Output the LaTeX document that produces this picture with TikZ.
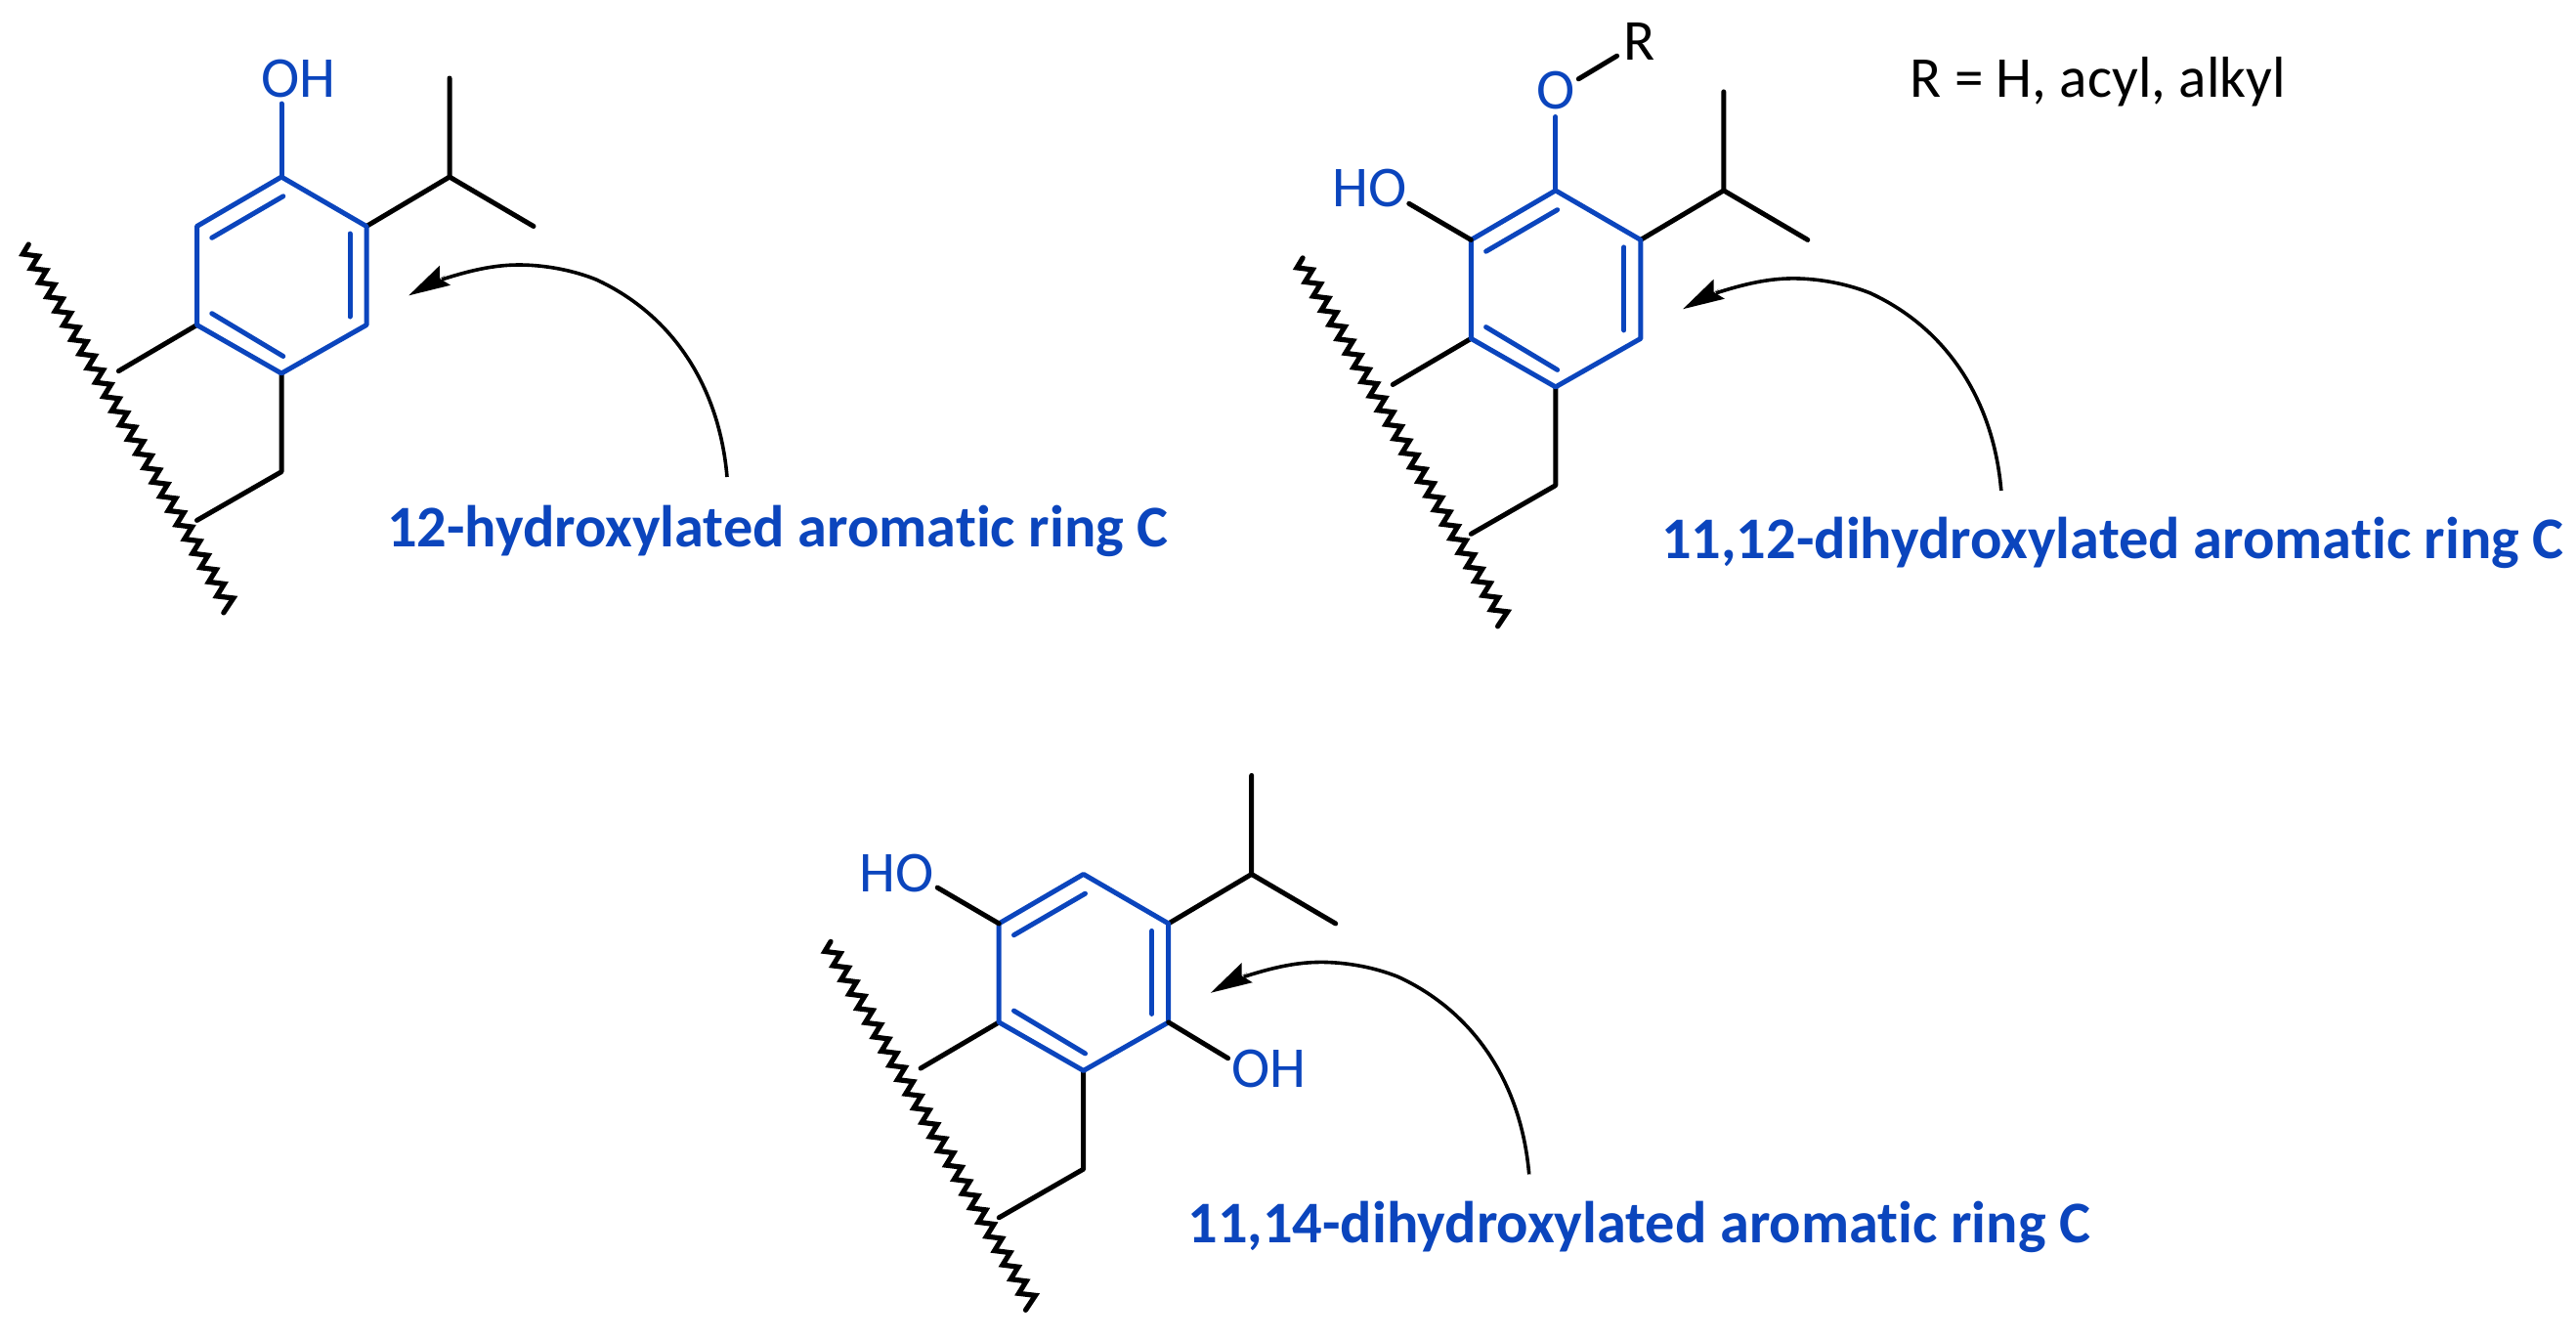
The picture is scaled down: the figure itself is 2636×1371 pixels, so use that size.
\documentclass[tikz,border=0pt]{standalone}
\usepackage{fontspec}
\setmainfont[Ligatures=NoCommon]{Carlito}
\usetikzlibrary{arrows.meta}
\definecolor{ringblue}{HTML}{0B45BD}
\tikzset{
  bond/.style={line width=5pt,line cap=round,line join=round,black},
  bluebond/.style={bond,draw=ringblue},
  wavy/.style={line width=5.2pt,line join=miter,line cap=round,black},
  curvearrow/.style={line width=3.6pt,black},
  atom/.style={inner sep=0pt,outer sep=0pt,anchor=base,text=ringblue,font=\fontsize{59.2}{60}\selectfont},
  blackatom/.style={atom,text=black},
  caption/.style={inner sep=0pt,outer sep=0pt,anchor=base west,text=ringblue,font=\fontsize{60.4}{62}\selectfont\bfseries},
  note/.style={inner sep=0pt,outer sep=0pt,anchor=base west,text=black,font=\fontsize{59.2}{60}\selectfont}
}
\newcommand{\corefrag}{%
  \coordinate (top) at (288,181);
  \coordinate (ur) at (375,231.5);
  \coordinate (lr) at (375,332.5);
  \coordinate (bot) at (288,382);
  \coordinate (ll) at (201.5,332.5);
  \coordinate (ul) at (201.5,231.5);
  \coordinate (ipr) at (460,181);
  \coordinate (ipa) at (460,80);
  \coordinate (ipb) at (546,231.5);
  \coordinate (lb) at (121.4,379.6);
  \coordinate (ch) at (288,482.7);
  \coordinate (cj) at (201.5,532.4);
  \coordinate (d1a) at (289.8,200.8);
  \coordinate (d1b) at (216.8,243.3);
  \coordinate (d2a) at (358,239);
  \coordinate (d2b) at (358,324);
  \coordinate (d3a) at (216.8,320.7);
  \coordinate (d3b) at (289.8,364.5);
  \coordinate (zs) at (29.3,250);
  \coordinate (as) at (744,488);
  \coordinate (am) at (610,286);
  \coordinate (at) at (531,271);
  \coordinate (an) at (452,286);
  \coordinate (ab) at (455.5,281.7);
  \coordinate (ah) at (418.3,302.3);
  \draw[bond] (ur) -- (ipr) -- (ipa);
  \draw[bond] (ipr) -- (ipb);
  \draw[bond] (ll) -- (lb);
  \draw[bond] (bot) -- (ch) -- (cj);
  \draw[wavy] (zs) -- ++(-6,10)
    \foreach \n in {1,...,24}{ -- ++(16,2) -- ++(-7.73,12.58) }
    -- ++(17,2) -- ++(-10,15);
  \draw[bluebond] (top) -- (ur) -- (lr) -- (bot) -- (ll) -- (ul) -- cycle;
  \draw[bluebond] (d1a) -- (d1b);
  \draw[bluebond] (d2a) -- (d2b);
  \draw[bluebond] (d3a) -- (d3b);
  \draw[curvearrow] (as) .. controls (736,395) and (688,322) .. (am)
    .. controls (580,274) and (550,271) .. (at)
    .. controls (505,271) and (480,277) .. (an);
  \draw[-{Stealth[length=42.5pt,width=23pt,inset=6.5pt,line width=0pt]},line width=0.1pt,black] (ab) -- (ah);
}
\begin{document}
\begin{tikzpicture}[x=1pt,y=-1pt]
\useasboundingbox (0,0) rectangle (2636,1371);
% structure 1
\begin{scope}[name prefix=a-]
  \corefrag
  \node[atom] (oh) at (305.5,99) {OH};
  \coordinate (ohb) at (288,106);
  \draw[bluebond] (top) -- (ohb);
  \node[caption] (lab) at (396,559) {12-hydroxylated aromatic ring C};
\end{scope}
% structure 2
\begin{scope}[shift={(1303.8,13.9)},name prefix=b-]
  \corefrag
  \node[atom] (o) at (288,97.6) {O};
  \node[blackatom] (r) at (374,47.1) {R};
  \node[atom] (ho) at (97.7,197.4) {HO};
  \coordinate (ob) at (288,105.6);
  \coordinate (ora) at (311.5,66.9);
  \coordinate (orb) at (350.8,43.3);
  \coordinate (hob) at (138,194.4);
  \draw[bluebond] (top) -- (ob);
  \draw[bond] (ora) -- (orb);
  \draw[bond] (ul) -- (hob);
  \node[note] (rdef) at (650.7,85.1) {R = H, acyl, alkyl};
  \node[caption] (lab) at (396.2,557.7) {11,12-dihydroxylated aromatic ring C};
\end{scope}
% structure 3
\begin{scope}[shift={(820.7,713.4)},name prefix=c-]
  \corefrag
  \node[atom] (ho) at (96.9,198.6) {HO};
  \node[atom] (oh) at (478,398.6) {OH};
  \coordinate (hob) at (138.5,194.7);
  \coordinate (ohb) at (435.9,369.3);
  \draw[bond] (ul) -- (hob);
  \draw[bond] (lr) -- (ohb);
  \node[caption] (lab) at (394.7,558.4) {11,14-dihydroxylated aromatic ring C};
\end{scope}
\end{tikzpicture}
\end{document}
